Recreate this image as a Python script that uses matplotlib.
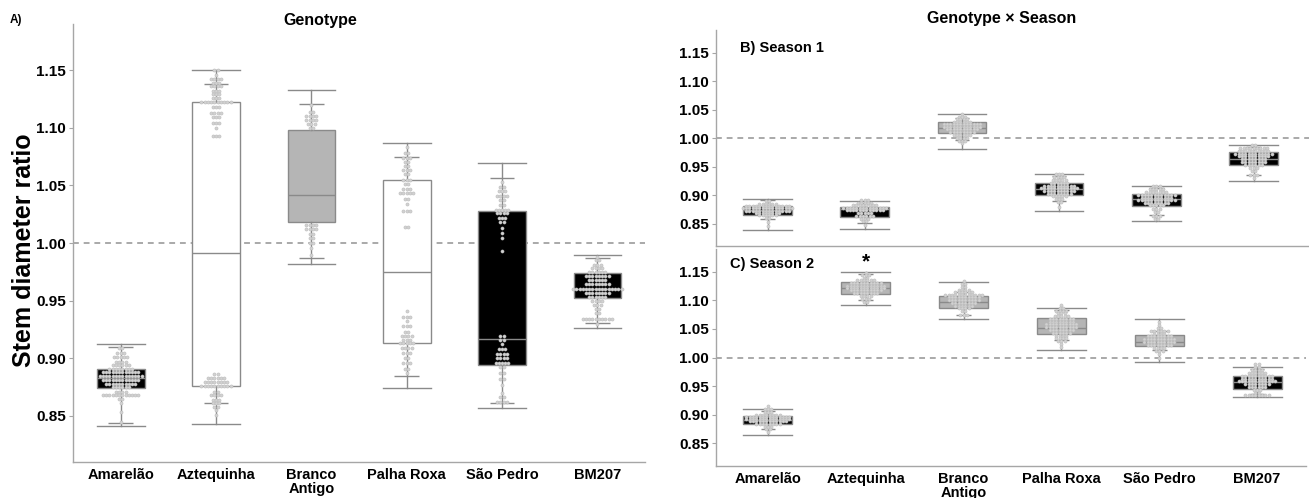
import numpy as np
import matplotlib.pyplot as plt

plt.rcParams['font.family'] = ['Liberation Sans', 'DejaVu Sans']
plt.rcParams['font.weight'] = 'bold'

genotypes = ['Amarelão', 'Aztequinha', 'Branco\nAntigo', 'Palha Roxa', 'São Pedro', 'BM207']
yticks = [0.85, 0.90, 0.95, 1.00, 1.05, 1.10, 1.15]

# A) genotype, both seasons pooled
a_whislo = [0.841, 0.843, 0.982, 0.874, 0.857, 0.926]
a_inner_lo = [0.844, 0.861, 0.987, 0.885, 0.861, 0.931]
a_q1 = [0.874, 0.876, 1.018, 0.913, 0.894, 0.952]
a_med = [0.883, 0.991, 1.042, 0.975, 0.917, 0.960]
a_q3 = [0.891, 1.122, 1.098, 1.055, 1.028, 0.974]
a_inner_hi = [0.910, 1.138, 1.121, 1.075, 1.056, 0.987]
a_whishi = [0.912, 1.150, 1.133, 1.087, 1.069, 0.990]
a_fill = ['black', 'white', 'gray', 'white', 'black', 'black']

# B) season 1
b_whislo = [0.839, 0.840, 0.981, 0.872, 0.855, 0.925]
b_inner_lo = [0.858, 0.851, 0.997, 0.890, 0.865, 0.936]
b_q1 = [0.866, 0.861, 1.009, 0.900, 0.881, 0.953]
b_med = [0.874, 0.876, 1.018, 0.911, 0.893, 0.964]
b_q3 = [0.881, 0.879, 1.028, 0.921, 0.903, 0.975]
b_inner_hi = [0.891, 0.887, 1.035, 0.933, 0.912, 0.984]
b_whishi = [0.893, 0.889, 1.043, 0.937, 0.916, 0.989]
b_fill = ['black', 'black', 'gray', 'black', 'black', 'black']

# C) season 2
c_whislo = [0.865, 1.092, 1.068, 1.014, 0.992, 0.931]
c_inner_lo = [0.875, 1.100, 1.074, 1.031, 1.013, 0.936]
c_q1 = [0.883, 1.111, 1.087, 1.041, 1.020, 0.945]
c_med = [0.890, 1.122, 1.098, 1.052, 1.028, 0.957]
c_q3 = [0.898, 1.132, 1.108, 1.069, 1.039, 0.967]
c_inner_hi = [0.906, 1.146, 1.115, 1.083, 1.046, 0.980]
c_whishi = [0.910, 1.150, 1.132, 1.087, 1.068, 0.984]
c_fill = ['black', 'gray', 'gray', 'gray', 'gray', 'black']

# individual plants: value levels and number of plants at each level
a_dot_levels = [
    [0.909, 0.905, 0.901, 0.897, 0.894, 0.891, 0.888, 0.885, 0.881, 0.878, 0.875, 0.871, 0.868, 0.865, 0.861, 0.853, 0.845],
    [1.150, 1.146, 1.142, 1.139, 1.136, 1.132, 1.129, 1.126, 1.122, 1.118, 1.113, 1.109, 1.104, 1.100, 1.093,
     0.886, 0.883, 0.879, 0.876, 0.871, 0.868, 0.864, 0.861, 0.858, 0.855, 0.851],
    [1.120, 1.114, 1.110, 1.107, 1.103, 1.100, 1.016, 1.012, 1.008, 1.004, 1.000, 0.996, 0.990],
    [1.083, 1.078, 1.074, 1.070, 1.067, 1.063, 1.060, 1.055, 1.051, 1.047, 1.043, 1.038, 1.034, 1.028, 1.014,
     0.941, 0.936, 0.932, 0.928, 0.923, 0.919, 0.916, 0.913, 0.909, 0.905, 0.900, 0.896, 0.891, 0.887],
    [1.053, 1.049, 1.045, 1.041, 1.037, 1.033, 1.029, 1.026, 1.022, 1.018, 1.013, 1.009, 1.004, 0.993,
     0.919, 0.916, 0.912, 0.908, 0.904, 0.900, 0.896, 0.892, 0.887, 0.882, 0.877, 0.870, 0.866, 0.862],
    [0.988, 0.985, 0.981, 0.978, 0.975, 0.971, 0.968, 0.964, 0.960, 0.957, 0.953, 0.950, 0.946, 0.943, 0.939, 0.934, 0.930],
]
a_dot_counts = [
    [2, 3, 5, 4, 6, 8, 12, 14, 12, 10, 6, 4, 12, 2, 1, 1, 1],
    [2, 1, 4, 3, 4, 3, 3, 3, 10, 3, 4, 3, 3, 1, 3, 2, 6, 8, 10, 2, 4, 3, 3, 2, 1, 1],
    [1, 2, 4, 4, 3, 2, 4, 4, 2, 2, 2, 1, 1],
    [1, 2, 3, 2, 2, 3, 2, 3, 2, 3, 5, 2, 1, 3, 2, 1, 3, 1, 3, 2, 4, 3, 5, 4, 3, 2, 3, 2, 1],
    [1, 2, 3, 4, 2, 2, 5, 4, 3, 2, 1, 1, 1, 1, 2, 2, 1, 3, 4, 4, 5, 2, 2, 2, 1, 1, 2, 4],
    [1, 2, 3, 4, 6, 8, 6, 8, 16, 8, 6, 4, 3, 2, 2, 10, 1],
]

b_dot_levels = [
    [0.890, 0.885, 0.881, 0.877, 0.873, 0.869, 0.865, 0.860, 0.853, 0.846],
    [0.891, 0.886, 0.882, 0.878, 0.874, 0.869, 0.864, 0.859, 0.854, 0.848],
    [1.043, 1.038, 1.034, 1.029, 1.025, 1.020, 1.016, 1.011, 1.006, 1.001, 0.996, 0.991],
    [0.937, 0.932, 0.927, 0.922, 0.917, 0.913, 0.908, 0.903, 0.898, 0.893, 0.888, 0.880],
    [0.916, 0.911, 0.906, 0.901, 0.896, 0.892, 0.887, 0.882, 0.876, 0.870, 0.864, 0.859],
    [0.988, 0.983, 0.978, 0.973, 0.968, 0.963, 0.958, 0.953, 0.948, 0.942, 0.936, 0.930],
]
b_dot_counts = [
    [2, 6, 14, 16, 14, 8, 6, 2, 1, 1],
    [3, 5, 8, 14, 12, 5, 6, 3, 2, 1],
    [1, 3, 4, 6, 12, 12, 10, 8, 6, 4, 3, 1],
    [3, 4, 5, 6, 10, 12, 10, 8, 5, 3, 2, 1],
    [3, 5, 7, 12, 10, 12, 8, 5, 3, 2, 3, 2],
    [2, 9, 10, 12, 10, 8, 8, 6, 3, 2, 3, 1],
]

c_dot_levels = [
    [0.915, 0.910, 0.905, 0.900, 0.896, 0.892, 0.888, 0.884, 0.879, 0.874, 0.869],
    [1.148, 1.144, 1.140, 1.135, 1.131, 1.126, 1.122, 1.118, 1.113, 1.108, 1.102, 1.097],
    [1.134, 1.129, 1.124, 1.119, 1.115, 1.110, 1.106, 1.101, 1.096, 1.091, 1.086, 1.081, 1.075],
    [1.092, 1.087, 1.082, 1.078, 1.073, 1.068, 1.063, 1.058, 1.053, 1.048, 1.043, 1.038, 1.034, 1.029, 1.024, 1.018],
    [1.062, 1.057, 1.052, 1.047, 1.042, 1.037, 1.032, 1.027, 1.022, 1.017, 1.012, 1.006, 1.000],
    [0.988, 0.983, 0.978, 0.973, 0.968, 0.963, 0.958, 0.953, 0.948, 0.943, 0.938, 0.934],
]
c_dot_counts = [
    [1, 3, 3, 8, 14, 14, 12, 8, 3, 2, 1],
    [1, 3, 2, 6, 10, 12, 12, 10, 8, 4, 3, 2],
    [1, 2, 2, 4, 6, 12, 10, 10, 8, 6, 4, 2, 3],
    [1, 2, 4, 3, 5, 8, 8, 10, 10, 8, 6, 4, 4, 3, 1, 1],
    [1, 1, 2, 6, 4, 8, 10, 10, 8, 4, 3, 1, 1],
    [2, 2, 4, 6, 10, 10, 12, 8, 6, 3, 2, 8],
]

fill_colors = {'black': '#000000', 'gray': '#b5b5b5', 'white': '#ffffff'}
line_gray = '#8a8a8a'
spine_gray = '#a6a6a6'

W, H = 1309, 498


def fx(x):
    return x / W


def fy(y):
    return 1 - y / H


def draw_panel(ax, whislo, inner_lo, q1, med, q3, inner_hi, whishi, fills,
               dot_levels, dot_counts, inner_w):
    pos = np.arange(len(q1))
    ax.axhline(1.0, color='#a9a9a9', ls=(0, (3, 2.5)), lw=1.4, zorder=1)
    stats = [dict(whislo=whislo[i], q1=q1[i], med=med[i], q3=q3[i],
                  whishi=whishi[i], fliers=[]) for i in pos]
    bp = ax.bxp(stats, positions=pos, widths=0.5, capwidths=0.5,
                patch_artist=True, showfliers=False,
                boxprops=dict(edgecolor=line_gray, linewidth=1.0),
                whiskerprops=dict(color=line_gray, linewidth=1.0),
                capprops=dict(color=line_gray, linewidth=1.0),
                medianprops=dict(color=line_gray, linewidth=1.0))
    for patch, f in zip(bp['boxes'], fills):
        patch.set_facecolor(fill_colors[f])
        patch.set_zorder(2)
    for key in ('whiskers', 'caps', 'medians'):
        for ln in bp[key]:
            ln.set_zorder(3)
    ax.hlines(inner_lo, pos - inner_w / 2, pos + inner_w / 2, color=line_gray, lw=1.0, zorder=3)
    ax.hlines(inner_hi, pos - inner_w / 2, pos + inner_w / 2, color=line_gray, lw=1.0, zorder=3)

    # plants as rows of dots
    dx = 0.034
    for i in pos:
        for v, n in zip(dot_levels[i], dot_counts[i]):
            xs = i + (np.arange(n) - (n - 1) / 2) * dx
            ax.scatter(xs, np.full(n, v), s=5, facecolor='#d2d2d2',
                       edgecolor='#bcbcbc', linewidth=0.4, zorder=4)

    ax.set_ylim(0.81, 1.19)
    ax.set_yticks(yticks)
    ax.set_yticklabels(['%.2f' % t for t in yticks])
    ax.tick_params(axis='y', length=3, color=spine_gray, labelsize=11, pad=2)
    ax.tick_params(axis='x', length=0, labelsize=10.5, pad=4)
    for s in ('top', 'right'):
        ax.spines[s].set_visible(False)
    for s in ('left', 'bottom'):
        ax.spines[s].set_color(spine_gray)
        ax.spines[s].set_linewidth(1.0)


fig = plt.figure(figsize=(13.09, 4.98), dpi=100)

ax_a = fig.add_axes([fx(73), fy(462), fx(645 - 73), (462 - 24) / H])
ax_b = fig.add_axes([fx(716), fy(246.5), fx(1309 - 716), (246.5 - 30) / H])
ax_c = fig.add_axes([fx(716), fy(466), fx(1306 - 716), (466 - 249) / H])

draw_panel(ax_a, a_whislo, a_inner_lo, a_q1, a_med, a_q3, a_inner_hi, a_whishi, a_fill,
           a_dot_levels, a_dot_counts, 0.26)
draw_panel(ax_b, b_whislo, b_inner_lo, b_q1, b_med, b_q3, b_inner_hi, b_whishi, b_fill,
           b_dot_levels, b_dot_counts, 0.15)
draw_panel(ax_c, c_whislo, c_inner_lo, c_q1, c_med, c_q3, c_inner_hi, c_whishi, c_fill,
           c_dot_levels, c_dot_counts, 0.15)

ax_a.set_xlim(-0.5, 5.5)
ax_b.set_xlim(-0.53, 5.57)
ax_c.set_xlim(-0.53, 5.5)

for ax in (ax_a, ax_c):
    ax.set_xticks(range(6))
    ax.set_xticklabels(genotypes, linespacing=1.0)
ax_b.set_xticks([])

# significance mark over Aztequinha in season 2
ax_c.text(1, 1.168, '*', ha='center', va='center', fontsize=15, fontweight='bold')

fig.text(fx(10), fy(20), 'A)', fontsize=8.5, fontweight='bold', va='center')
fig.text(fx(320), fy(20), 'Genotype', fontsize=11.5, fontweight='bold', ha='center', va='center')
fig.text(fx(1002), fy(18), 'Genotype × Season', fontsize=11.5, fontweight='bold', ha='center', va='center')
fig.text(fx(740), fy(48), 'B) Season 1', fontsize=10.5, fontweight='bold', va='center')
fig.text(fx(730), fy(264), 'C) Season 2', fontsize=10.5, fontweight='bold', va='center')
fig.text(fx(24), fy(250), 'Stem diameter ratio', fontsize=18, fontweight='bold',
         rotation=90, ha='center', va='center')

fig.savefig('out.png', dpi=100)
